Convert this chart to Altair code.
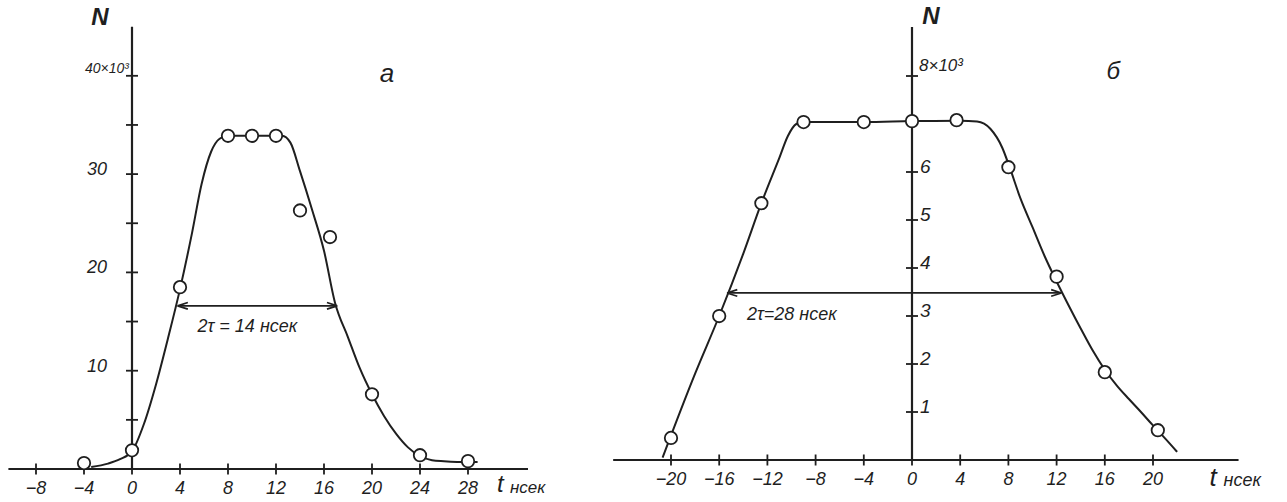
import altair as alt
import pandas as pd

FONT = "Liberation Sans"
INK = "#1f1f1f"

# ---------------- panel а ----------------
# measured points, t in ns, N in units of 10^3
a_t = [-4, 0, 4, 8, 10, 12, 14, 16.5, 20, 24, 28]
a_n = [0.6, 1.9, 18.5, 33.9, 33.9, 33.9, 26.3, 23.6, 7.6, 1.4, 0.8]
# hand-drawn smooth curve through the points
a_curve_t = [-3.4, -2, -1, 0, 1, 2, 3, 4, 5, 5.8, 6.6, 7.3, 8, 10, 12, 12.5, 13.2,
             14, 15, 16, 16.9, 18, 19, 20, 21, 22, 23, 24, 25, 26, 28, 28.8]
a_curve_n = [0.2, 0.55, 1.0, 1.8, 4.6, 8.6, 13.3, 18.3, 24, 29, 32.3, 33.6, 33.9, 33.9,
             33.9, 33.9, 33.2, 30.3, 26.4, 22.2, 17.0, 13.4, 10.2, 7.6, 5.4, 3.6, 2.2,
             1.3, 0.9, 0.8, 0.7, 0.7]
# full width at half maximum marker: 2τ = 14 ns
a_fwhm_t = [3.8, 17.1]
a_fwhm_n = 16.6
a_xticks = [-8, -4, 0, 4, 8, 12, 16, 20, 24, 28]
a_yticks = [5, 10, 15, 20, 25, 30, 35, 40]
a_ylabels = [10, 20, 30]
a_xaxis = [-10.3, 33.0]
a_ytop = 45.0

# ---------------- panel б ----------------
b_t = [-20, -16, -12.5, -9, -4, 0, 3.7, 8, 12, 16, 20.4]
b_n = [0.46, 3.0, 5.35, 7.04, 7.04, 7.06, 7.08, 6.1, 3.82, 1.83, 0.62]
b_curve_t = [-20.7, -18, -16, -14, -12.5, -11, -10.3, -9.6, -9, -4, 0, 4, 5.4, 6.5,
             7.5, 8.1, 9, 10, 11, 12, 13, 14, 15, 16, 17, 18, 19, 20, 21, 22]
b_curve_n = [0.05, 1.8, 3.0, 4.3, 5.35, 6.3, 6.75, 7.0, 7.04, 7.04, 7.06, 7.07, 7.05,
             6.9, 6.5, 6.1, 5.45, 4.85, 4.25, 3.72, 3.22, 2.74, 2.28, 1.88, 1.55,
             1.27, 1.0, 0.72, 0.45, 0.17]
# 2τ = 28 ns
b_fwhm_t = [-15.35, 12.4]
b_fwhm_n = 3.48
b_xticks = [-20, -16, -12, -8, -4, 0, 4, 8, 12, 16, 20]
b_yticks = [1, 2, 3, 4, 5, 6, 7, 8]
b_ylabels = [1, 2, 3, 4, 5, 6]
b_xaxis = [-24.8, 27.1]
b_ytop = 9.02


def fmt(v):
    return str(v).replace("-", "\u2212")


ARROW_LEFT = "M0,0L1,-0.32M0,0L1,0.32"
ARROW_RIGHT = "M0,0L-1,-0.32M0,0L-1,0.32"


def panel(width, height, xdom, ydom, pts_t, pts_n, cur_t, cur_n, fwhm_t, fwhm_n,
          xticks, yticks, ylabels, xaxis, ytop, texts, ylabel_side):
    xs = alt.Scale(domain=xdom, nice=False, zero=False)
    ys = alt.Scale(domain=ydom, nice=False, zero=False)
    X = lambda f: alt.X(f, type="quantitative", scale=xs, axis=None)
    Y = lambda f: alt.Y(f, type="quantitative", scale=ys, axis=None)

    axes = pd.DataFrame({
        "t": [xaxis[0], 0], "t2": [xaxis[1], 0],
        "n": [0, 0], "n2": [0, ytop],
    })
    axis_lines = alt.Chart(axes).mark_rule(color=INK, strokeWidth=2.2).encode(
        x=X("t"), x2="t2", y=Y("n"), y2="n2")

    xt = pd.DataFrame({"t": xticks, "n": [0] * len(xticks),
                       "lab": [fmt(v) for v in xticks]})
    xtick_marks = alt.Chart(xt).mark_tick(
        orient="vertical", size=11, thickness=1.8, color=INK, opacity=1
    ).encode(x=X("t"), y=Y("n"))
    xtick_text = alt.Chart(xt).mark_text(
        font=FONT, fontStyle="italic", fontSize=18, color=INK,
        baseline="middle", align="center", dy=20
    ).encode(x=X("t"), y=Y("n"), text="lab:N")

    yt = pd.DataFrame({"t": [0] * len(yticks), "n": yticks})
    ytick_marks = alt.Chart(yt).mark_tick(
        orient="horizontal", size=12, thickness=1.8, color=INK, opacity=1
    ).encode(x=X("t"), y=Y("n"))
    yl = pd.DataFrame({"t": [0] * len(ylabels), "n": ylabels,
                       "lab": [str(v) for v in ylabels]})
    if ylabel_side == "left":
        ylab = alt.Chart(yl).mark_text(
            font=FONT, fontStyle="italic", fontSize=18, color=INK,
            align="right", baseline="middle", dx=-25, dy=-4)
    else:
        ylab = alt.Chart(yl).mark_text(
            font=FONT, fontStyle="italic", fontSize=19, color=INK,
            align="left", baseline="middle", dx=8, dy=-5)
    ylab = ylab.encode(x=X("t"), y=Y("n"), text="lab:N")

    curve = alt.Chart(pd.DataFrame({"t": cur_t, "n": cur_n})).mark_line(
        color=INK, strokeWidth=2, interpolate="monotone"
    ).encode(x=X("t"), y=Y("n"), order="t:Q")

    fw = pd.DataFrame({"t": [fwhm_t[0]], "t2": [fwhm_t[1]], "n": [fwhm_n]})
    fw_line = alt.Chart(fw).mark_rule(color=INK, strokeWidth=1.7).encode(
        x=X("t"), x2="t2", y=Y("n"))
    heads = pd.DataFrame({"t": fwhm_t, "n": [fwhm_n, fwhm_n],
                          "side": ["l", "r"]})
    head_l = alt.Chart(heads[heads.side == "l"]).mark_point(
        shape=ARROW_LEFT, size=420, filled=False, stroke=INK, strokeWidth=1.7,
        opacity=1).encode(x=X("t"), y=Y("n"))
    head_r = alt.Chart(heads[heads.side == "r"]).mark_point(
        shape=ARROW_RIGHT, size=420, filled=False, stroke=INK, strokeWidth=1.7,
        opacity=1).encode(x=X("t"), y=Y("n"))

    dots = alt.Chart(pd.DataFrame({"t": pts_t, "n": pts_n})).mark_point(
        shape="circle", size=155, filled=True, fill="white", stroke=INK,
        strokeWidth=1.8, opacity=1
    ).encode(x=X("t"), y=Y("n"))

    layers = [axis_lines, xtick_marks, ytick_marks, curve, fw_line, head_l,
              head_r, dots, xtick_text, ylab]
    for tx in texts:
        d = pd.DataFrame({"t": [tx["t"]], "n": [tx["n"]], "lab": [tx["text"]]})
        layers.append(alt.Chart(d).mark_text(
            font=FONT, fontStyle="italic", fontSize=tx.get("size", 18),
            fontWeight=tx.get("weight", "normal"), color=INK,
            align=tx.get("align", "left"), baseline="middle",
            dx=tx.get("dx", 0), dy=tx.get("dy", 0)
        ).encode(x=X("t"), y=Y("n"), text="lab:N"))

    return alt.layer(*layers).properties(width=width, height=height)


a_texts = [
    {"text": "N", "t": 0, "n": a_ytop, "dx": -32, "dy": -9, "size": 24,
     "align": "center", "weight": "bold"},
    {"text": "40×10³", "t": 0, "n": 40, "dx": -3, "dy": -7, "size": 14,
     "align": "right"},
    {"text": "а", "t": 21.25, "n": 40.2, "size": 26, "align": "center"},
    {"text": "2τ = 14 нсек", "t": a_fwhm_t[0], "n": a_fwhm_n, "dx": 20,
     "dy": 21, "size": 18},
    {"text": "t", "t": a_xaxis[1], "n": 0, "dx": -31, "dy": 16, "size": 24},
    {"text": "нсек", "t": a_xaxis[1], "n": 0, "dx": -18, "dy": 19, "size": 17},
]

b_texts = [
    {"text": "N", "t": 0, "n": b_ytop, "dx": 19, "dy": -10, "size": 24,
     "align": "center", "weight": "bold"},
    {"text": "8×10³", "t": 0, "n": 8, "dx": 7, "dy": -10, "size": 17},
    {"text": "б", "t": 16.7, "n": 8.08, "size": 24, "align": "center"},
    {"text": "2τ=28 нсек", "t": b_fwhm_t[0], "n": b_fwhm_n, "dx": 20,
     "dy": 22, "size": 18},
    {"text": "t", "t": b_xaxis[1], "n": 0, "dx": -29, "dy": 18, "size": 26},
    {"text": "нсек", "t": b_xaxis[1], "n": 0, "dx": -15, "dy": 21, "size": 18},
]

H = 502
WA, WB = 590, 697
pa = panel(WA, H, [-132 / 12, (WA - 132) / 12], [(469 - H) / 9.83, 469 / 9.83],
           a_t, a_n, a_curve_t, a_curve_n, a_fwhm_t, a_fwhm_n,
           a_xticks, a_yticks, a_ylabels, a_xaxis, a_ytop, a_texts, "left")
pb = panel(WB, H, [-322 / 12.05, (WB - 322) / 12.05], [(460 - H) / 48, 460 / 48],
           b_t, b_n, b_curve_t, b_curve_n, b_fwhm_t, b_fwhm_n,
           b_xticks, b_yticks, b_ylabels, b_xaxis, b_ytop, b_texts, "right")

chart = alt.hconcat(pa, pb, spacing=0).properties(
    padding=0, background="white"
).configure_view(stroke=None)

chart.save("out.html", embed_options={"renderer": "svg", "actions": False})
